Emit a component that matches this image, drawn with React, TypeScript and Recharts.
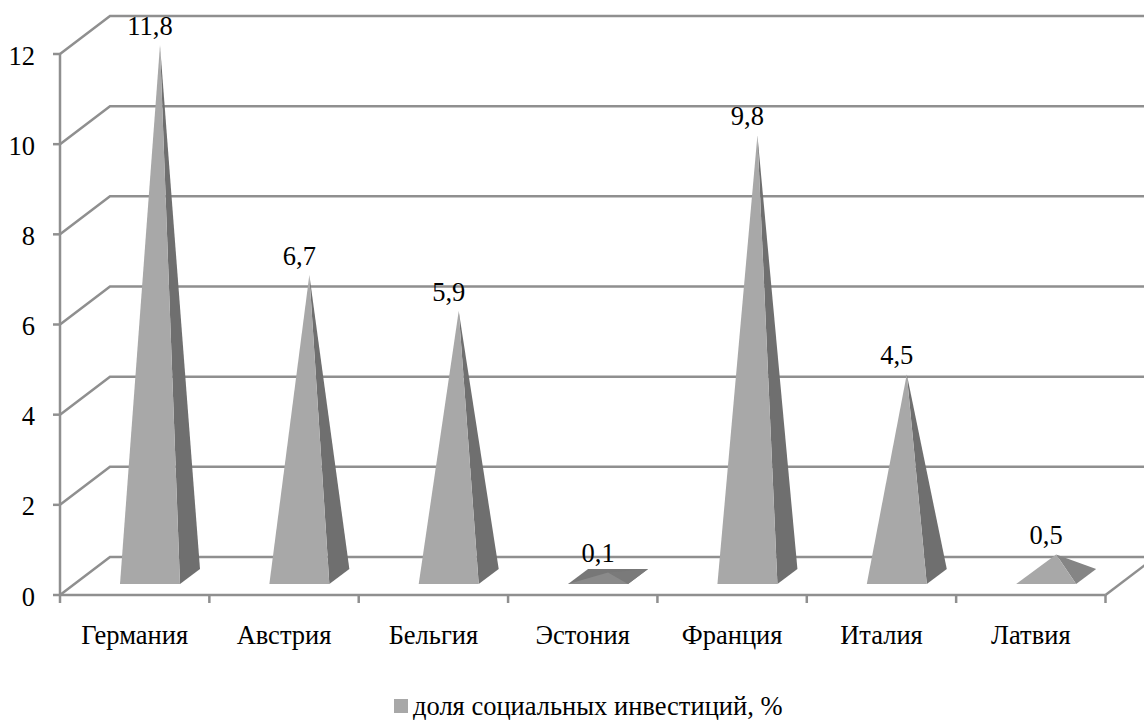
import React from 'react';
import { BarChart, Bar, XAxis, YAxis, CartesianGrid, LabelList } from 'recharts';

const categories = ['Германия', 'Австрия', 'Бельгия', 'Эстония', 'Франция', 'Италия', 'Латвия'];
const seriesValues = [11.8, 6.7, 5.9, 0.1, 9.8, 4.5, 0.5];
const yTicks = [0, 2, 4, 6, 8, 10, 12];
const seriesName = 'доля социальных инвестиций, %';
const rows = categories.map((name, i) => ({ name, value: seriesValues[i] }));

const FONT = '"Liberation Serif", "Times New Roman", serif';
const FONT_SIZE = 26.5;
const GRID = '#8f8f8f';
const DX = 50;
const DY = 38;
const BAND = (1105.5 - 60) / categories.length;

function Pyramid(props: any) {
  const { x, y, width, height, value } = props;
  const fl = x + 15;
  const fr = fl + width;
  const base = y + height - 11;
  const br = fr + 20;
  const back = base - 15;
  const ax = fl + 40;
  const ay = y - 18;
  const low = value < 0.3;
  return (
    <g>
      {low && <polygon points={`${fl},${base} ${fr},${base} ${br},${back} ${fl + 20},${back}`} fill="#777777" />}
      <polygon points={`${fr},${base} ${br},${back} ${ax},${ay}`} fill={low ? '#7a7a7a' : value < 1 ? '#858585' : '#6f6f6f'} />
      <polygon points={`${fl},${base} ${fr},${base} ${ax},${ay}`} fill={low ? '#8a8a8a' : '#a8a8a8'} />
    </g>
  );
}

function GridPath(props: any) {
  const { x1, y1, x2 } = props;
  const isFloor = y1 > 590;
  return (
    <g>
      <polyline
        points={`${x1},${y1} ${x1 + DX},${y1 - DY} ${x2 + DX},${y1 - DY}`}
        fill="none"
        stroke={GRID}
        strokeWidth={2.5}
      />
      {isFloor && <line x1={x2} y1={y1} x2={x2 + DX} y2={y1 - DY} stroke={GRID} strokeWidth={2.5} />}
    </g>
  );
}

function CategoryTick(props: any) {
  const { x, y, payload, index } = props;
  const left = x - BAND / 2;
  const top = y - 8;
  return (
    <g>
      <line x1={left} y1={top} x2={left} y2={y} stroke={GRID} strokeWidth={2.5} />
      {index === categories.length - 1 && (
        <line x1={left + BAND} y1={top} x2={left + BAND} y2={y} stroke={GRID} strokeWidth={2.5} />
      )}
      <text x={x} y={y + 41} textAnchor="middle" fontFamily={FONT} fontSize={FONT_SIZE} fill="#000">
        {payload.value}
      </text>
    </g>
  );
}

function ValueTick(props: any) {
  const { x, y, payload } = props;
  return (
    <text x={x} y={y + 10.5} textAnchor="end" fontFamily={FONT} fontSize={FONT_SIZE} fill="#000">
      {payload.value}
    </text>
  );
}

function ValueLabel(props: any) {
  const { x, y, width, value } = props;
  return (
    <text x={x + width / 2 + 15} y={y - 28} textAnchor="middle" fontFamily={FONT} fontSize={FONT_SIZE} fill="#000">
      {String(value).replace('.', ',')}
    </text>
  );
}

export default function App() {
  return (
    <div style={{ position: 'absolute', left: 0, top: 0, width: 1144, height: 720, overflow: 'hidden', background: '#fff' }}>
      <BarChart
        width={1144}
        height={720}
        data={rows}
        margin={{ top: 54, right: 38.5, bottom: 0, left: 0 }}
        barCategoryGap={0}
      >
        <CartesianGrid horizontal={GridPath as any} vertical={false} />
        <XAxis
          dataKey="name"
          height={125}
          interval={0}
          axisLine={{ stroke: GRID, strokeWidth: 2.5 }}
          tickLine={false}
          tick={<CategoryTick />}
        />
        <YAxis
          width={60}
          domain={[0, 12]}
          ticks={yTicks}
          interval={0}
          axisLine={{ stroke: GRID, strokeWidth: 2.5 }}
          tickLine={{ stroke: GRID, strokeWidth: 2.5 }}
          tickSize={7}
          tickMargin={18}
          tick={<ValueTick />}
        />
        <Bar dataKey="value" barSize={60} shape={<Pyramid />} isAnimationActive={false}>
          <LabelList dataKey="value" content={<ValueLabel />} />
        </Bar>
      </BarChart>
      <span style={{ position: 'absolute', left: 394, top: 699, width: 14, height: 14, background: '#a8a8a8' }} />
      <span style={{ position: 'absolute', left: 413, top: 694, fontFamily: FONT, fontSize: FONT_SIZE, lineHeight: '24px', color: '#000', whiteSpace: 'nowrap' }}>
        {seriesName}
      </span>
    </div>
  );
}
